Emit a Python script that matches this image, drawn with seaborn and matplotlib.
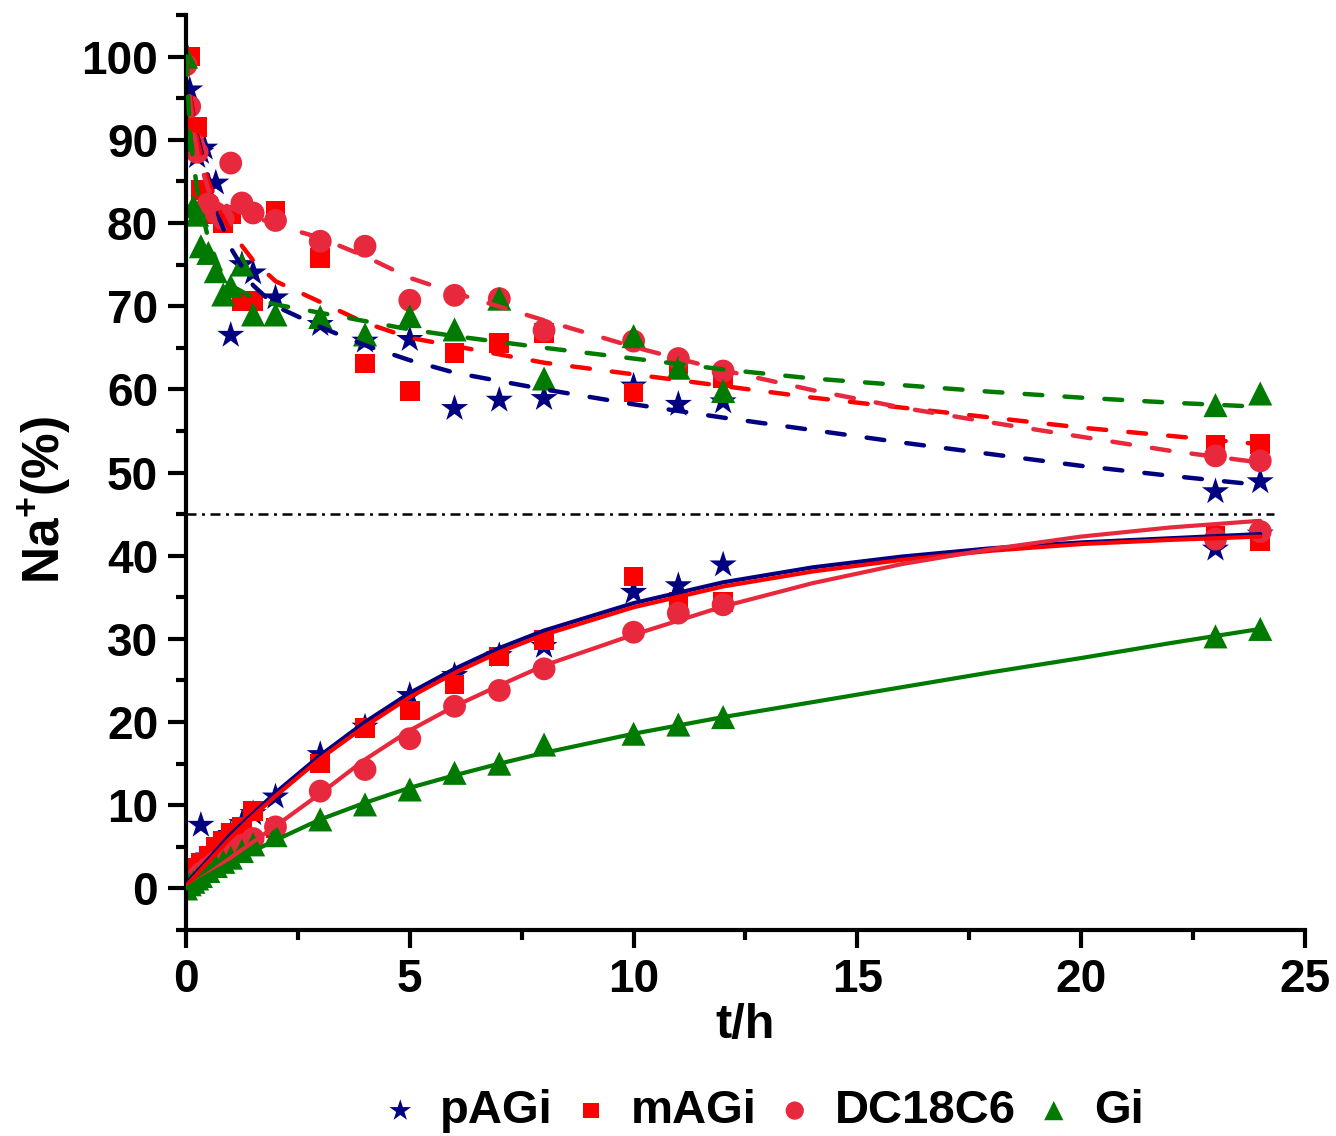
import numpy as np
import pandas as pd
import matplotlib
matplotlib.use("Agg")
import matplotlib.pyplot as plt
import seaborn as sns

# ---- data ----
samples = ["pAGi", "mAGi", "DC18C6", "Gi"]

# remaining Na+ (upper branch, markers)
t_up_pAGi = [0, 0.083, 0.167, 0.25, 0.333, 0.417, 0.667, 1, 1.25, 1.5, 2, 3, 4, 5, 6, 7, 8, 10, 11, 12, 23, 24]
na_up_pAGi = [100.5, 96, 91, 88, 88.5, 89, 84.8, 66.5, 75, 74, 71, 67.8, 65.8, 66, 57.7, 58.7, 58.9, 60.4, 58.2, 58.5, 47.7, 48.9]

t_up_mAGi = [0.083, 0.25, 0.333, 0.5, 0.667, 0.833, 1, 1.25, 1.5, 2, 3, 4, 5, 6, 7, 8, 10, 11, 12, 23, 24]
na_up_mAGi = [100, 91.5, 84, 82, 81, 80, 81, 70.6, 70.6, 81.4, 75.8, 63.1, 59.8, 64.4, 65.6, 66.8, 59.6, 63, 61.4, 53.3, 53.4]

t_up_DC = [0, 0.083, 0.167, 0.25, 0.5, 0.667, 0.833, 1, 1.25, 1.5, 2, 3, 4, 5, 6, 7, 8, 10, 11, 12, 23, 24]
na_up_DC = [99, 94, 89.5, 88.5, 82.3, 81.2, 80.5, 87.2, 82.4, 81.2, 80.3, 77.8, 77.2, 70.7, 71.3, 70.9, 67.1, 65.8, 63.7, 62.2, 52, 51.4]

t_up_Gi = [0, 0.083, 0.167, 0.25, 0.333, 0.5, 0.667, 0.833, 1, 1.25, 1.5, 2, 3, 4, 5, 6, 7, 8, 10, 11, 12, 23, 24]
na_up_Gi = [100, 90, 82, 81, 77.2, 76.4, 74.2, 71.4, 72.4, 75, 69, 69, 68.7, 66.6, 68.8, 67.2, 70.9, 61.3, 66.4, 62.6, 59.8, 58.1, 59.5]

# transported Na+ (lower branch, markers)
t_low = [0, 0.083, 0.167, 0.25, 0.333, 0.5, 0.667, 0.833, 1, 1.25, 1.5, 2, 3, 4, 5, 6, 7, 8, 10, 11, 12, 23, 24]
na_low_pAGi = [0.5, 1.2, 1.8, 2.5, 7.6, 3.8, 4.5, 5.6, 6.5, 7.8, 9, 11, 16.1, 19.4, 23.2, 25.6, 28, 29.1, 35.6, 36.4, 38.9, 40.8, 42.6]
na_low_mAGi = [0.7, 1.3, 1.9, 2.5, 3.1, 3.9, 5, 5.7, 6.7, 7.4, 9.3, 7.3, 15, 19.3, 21.4, 24.5, 27.9, 29.9, 37.5, 34.5, 34.4, 42.4, 41.8]
na_low_DC = [0, 0.5, 0.9, 1.3, 1.8, 2.5, 3.2, 3.8, 4.5, 5.2, 6, 7.4, 11.7, 14.3, 18, 21.9, 23.8, 26.4, 30.8, 33.1, 34.1, 42, 42.9]
na_low_Gi = [0, 0.5, 0.8, 1.2, 1.5, 2.1, 2.7, 3.2, 3.7, 4.5, 5.3, 6.4, 8.3, 10.1, 11.9, 13.9, 15, 17.3, 18.6, 19.7, 20.6, 30.3, 31.2]

# fitted curves
t_fit_up = [0, 0.1, 0.25, 0.5, 0.75, 1, 1.5, 2, 3, 4, 5, 6, 8, 10, 12, 14, 16, 18, 20, 22, 24]
fit_up_pAGi = [100, 95, 90.5, 85.5, 80.5, 77, 72.5, 70, 67.5, 65.3, 63.5, 62, 60, 58.2, 56.6, 55.1, 53.6, 52.2, 50.8, 49.6, 48.5]
fit_up_mAGi = [100, 95, 90, 85, 81.5, 79, 75.5, 73, 70.5, 68, 66.2, 65.2, 63.2, 61.8, 60.4, 59, 57.8, 56.6, 55.4, 54.4, 53.4]
fit_up_DC = [100, 94, 88.5, 84, 82.5, 81.8, 80.8, 79.8, 78.2, 76, 73.4, 71.6, 68.3, 65.1, 62.3, 59.9, 57.8, 56, 54.3, 52.6, 51.2]
fit_up_Gi = [100, 90, 84, 78, 74.5, 72.5, 71, 70.2, 69.2, 68.2, 67.2, 66.4, 65, 63.7, 62.4, 61.3, 60.5, 59.7, 59, 58.4, 57.9]

t_fit_low = [0, 0.5, 1, 1.5, 2, 3, 4, 5, 6, 7, 8, 10, 12, 14, 16, 18, 20, 22, 24]
fit_low_pAGi = [0.5, 3.5, 6.5, 9.0, 11.5, 16, 20, 23.5, 26.4, 28.9, 31, 34.3, 36.8, 38.6, 39.9, 40.9, 41.6, 42.1, 42.6]
fit_low_mAGi = [0.3, 3.2, 6.1, 8.7, 11.1, 15.6, 19.5, 23, 25.9, 28.4, 30.5, 33.8, 36.3, 38.1, 39.5, 40.6, 41.4, 41.9, 42.3]
fit_low_DC = [0, 1.8, 3.7, 5.6, 7.5, 11.4, 15.5, 19, 21.9, 24.4, 26.8, 30.5, 33.9, 36.7, 39.0, 40.8, 42.3, 43.4, 44.2]
fit_low_Gi = [0, 1.6, 3.1, 4.5, 5.8, 8.3, 10.3, 12.1, 13.6, 15, 16.3, 18.6, 20.6, 22.4, 24.2, 26, 27.7, 29.5, 31.2]

ref_level = 45
ref_span = [0, 24.3]

colors = {"pAGi": "#000080", "mAGi": "#FF0000", "DC18C6": "#E8283C", "Gi": "#007A00"}
markers = {"pAGi": "*", "mAGi": "s", "DC18C6": "o", "Gi": "^"}
msize = {"pAGi": 420, "mAGi": 200, "DC18C6": 270, "Gi": 300}

pts = {
    "pAGi": [(t_up_pAGi, na_up_pAGi), (t_low, na_low_pAGi)],
    "mAGi": [(t_up_mAGi, na_up_mAGi), (t_low, na_low_mAGi)],
    "DC18C6": [(t_up_DC, na_up_DC), (t_low, na_low_DC)],
    "Gi": [(t_up_Gi, na_up_Gi), (t_low, na_low_Gi)],
}
fits_up = {"pAGi": fit_up_pAGi, "mAGi": fit_up_mAGi, "DC18C6": fit_up_DC, "Gi": fit_up_Gi}
fits_low = {"pAGi": fit_low_pAGi, "mAGi": fit_low_mAGi, "DC18C6": fit_low_DC, "Gi": fit_low_Gi}

sns.set_style("ticks", {"axes.edgecolor": "black", "text.color": "black",
                        "axes.labelcolor": "black", "xtick.color": "black",
                        "ytick.color": "black"})
plt.rcParams["font.family"] = ["Liberation Sans", "DejaVu Sans"]
plt.rcParams["font.weight"] = "bold"
plt.rcParams["mathtext.fontset"] = "custom"
plt.rcParams["mathtext.bf"] = "Liberation Sans:bold"
plt.rcParams["mathtext.rm"] = "Liberation Sans:bold"

fig = plt.figure(figsize=(13.36, 11.36), dpi=100)
ax = fig.add_axes([0.1392, 0.1813, 0.8376, 0.8055])

for s in samples:
    rows = []
    for tt, yy in pts[s]:
        rows += list(zip(tt, yy))
    df = pd.DataFrame(rows, columns=["t", "na"])
    sns.scatterplot(data=df, x="t", y="na", marker=markers[s], s=msize[s],
                    color=colors[s], edgecolor="none", linewidth=0,
                    ax=ax, zorder=2, label=s)

for s in samples:
    ax.plot(t_fit_up, fits_up[s], color=colors[s], lw=3.2, ls=(0, (4, 5)),
            dash_capstyle="round", zorder=3)
    ax.plot(t_fit_low, fits_low[s], color=colors[s], lw=3.0, zorder=3)

ax.plot(ref_span, [ref_level, ref_level], color="black", lw=1.8,
        ls=(0, (4, 2.2, 1.2, 2.2)), zorder=3)

ax.set_xlim(0, 25)
ax.set_ylim(-5, 105)
ax.set_xticks(np.arange(0, 26, 5))
ax.set_xticks(np.arange(2.5, 25, 5), minor=True)
ax.set_yticks(np.arange(0, 101, 10))
ax.set_yticks(np.arange(-5, 106, 10), minor=True)
sns.despine(ax=ax)
for sp in ["left", "bottom"]:
    ax.spines[sp].set_linewidth(3)
    ax.spines[sp].set_color("black")
ax.tick_params(which="major", direction="out", length=13, width=3,
               labelsize=33, pad=7, colors="black")
ax.tick_params(which="minor", direction="out", length=7, width=3, colors="black")
for lab in ax.get_xticklabels() + ax.get_yticklabels():
    lab.set_fontweight("bold")

ax.set_xlabel("t/h", fontsize=35, fontweight="bold", color="black")
ax.xaxis.set_label_coords(0.5, -0.08)
ax.set_ylabel(r"Na$^{\mathbf{+}}$(%)", fontsize=37, fontweight="bold", color="black")
ax.yaxis.set_label_coords(-0.10, 0.47)

handles, labels = ax.get_legend_handles_labels()
ax.legend_.remove()
fig.legend(handles, labels, loc="center", bbox_to_anchor=(0.569, 0.022),
           ncol=4, frameon=False, markerscale=0.8,
           handletextpad=0.35, columnspacing=0.3, handlelength=1.0,
           prop={"weight": "bold", "size": 34})

fig.savefig("out.png", dpi=100)
